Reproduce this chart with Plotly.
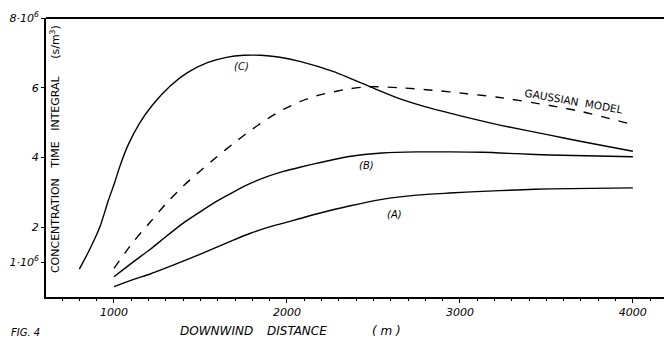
import plotly.graph_objects as go

# Downwind distance (m) and concentration time integral (x10^6 s/m^3)
c_x = [800, 860, 920, 965, 1005, 1035, 1080, 1150, 1225, 1325, 1420, 1540, 1650, 1750, 1850, 1950, 2080, 2270, 2480, 2650, 2840, 3040, 3230, 3520, 3710, 4000]
c_y = [0.80, 1.37, 2.03, 2.73, 3.30, 3.76, 4.34, 5.00, 5.52, 6.05, 6.42, 6.72, 6.87, 6.93, 6.93, 6.88, 6.75, 6.46, 6.03, 5.69, 5.40, 5.15, 4.93, 4.64, 4.45, 4.18]

g_x = [1000, 1110, 1210, 1305, 1400, 1500, 1595, 1690, 1785, 1885, 1980, 2075, 2170, 2360, 2480, 2650, 2840, 3040, 3230, 3520, 3710, 4000]
g_y = [0.82, 1.57, 2.15, 2.70, 3.18, 3.62, 4.02, 4.40, 4.76, 5.10, 5.38, 5.60, 5.77, 5.97, 6.03, 6.00, 5.93, 5.83, 5.72, 5.49, 5.31, 4.94]

b_x = [1000, 1110, 1210, 1305, 1400, 1500, 1595, 1690, 1785, 1885, 1980, 2075, 2170, 2360, 2550, 2750, 2940, 3130, 3330, 3520, 4000]
b_y = [0.58, 1.00, 1.37, 1.75, 2.12, 2.45, 2.75, 3.01, 3.25, 3.45, 3.60, 3.72, 3.83, 4.03, 4.13, 4.16, 4.16, 4.15, 4.11, 4.07, 4.02]

a_x = [1000, 1110, 1210, 1305, 1400, 1500, 1595, 1690, 1785, 1885, 1980, 2075, 2170, 2360, 2550, 2750, 2940, 3130, 3330, 3520, 4000]
a_y = [0.30, 0.50, 0.66, 0.84, 1.03, 1.23, 1.43, 1.63, 1.82, 1.99, 2.12, 2.25, 2.38, 2.61, 2.80, 2.92, 2.98, 3.03, 3.07, 3.10, 3.13]

x_tickvals = [1000, 2000, 3000, 4000]
x_ticktext = ["<i>1000</i>", "<i>2000</i>", "<i>3000</i>", "<i>4000</i>"]
y_tickvals = [1, 2, 4, 6, 8]
y_ticktext = ["<i>1·10<sup>6</sup></i>", "<i>2</i>", "<i>4</i>", "<i>6</i>", "<i>8·10<sup>6</sup></i>"]

FONT = "DejaVu Sans"
fig = go.Figure()
line = dict(color="black", width=1.4, shape="spline", smoothing=0.7)
fig.add_trace(go.Scatter(x=c_x, y=c_y, mode="lines", line=dict(line, dash="solid"), name="(C)"))
fig.add_trace(go.Scatter(x=g_x, y=g_y, mode="lines", line=dict(line, dash="dash"), name="Gaussian model"))
fig.add_trace(go.Scatter(x=b_x, y=b_y, mode="lines", line=dict(line, dash="solid"), name="(B)"))
fig.add_trace(go.Scatter(x=a_x, y=a_y, mode="lines", line=dict(line, dash="solid"), name="(A)"))

fig.update_layout(
    width=664, height=338,
    margin=dict(l=46, r=0, t=18, b=41),
    paper_bgcolor="white", plot_bgcolor="white",
    showlegend=False,
    font=dict(family=FONT, color="black", size=11),
    xaxis=dict(range=[607, 4180], tickvals=x_tickvals, ticktext=x_ticktext,
               showgrid=False, zeroline=False, showline=True, linecolor="black", linewidth=2,
               ticks="outside", ticklen=4, tickcolor="black", tickwidth=1,
               minor=dict(dtick=100, ticks="outside", ticklen=2, tickcolor="black"),
               tickfont=dict(size=11, family=FONT), automargin=False),
    yaxis=dict(range=[0, 8], tickvals=y_tickvals, ticktext=y_ticktext,
               showgrid=False, zeroline=False, showline=True, linecolor="black", linewidth=2,
               ticks="outside", ticklen=3, tickcolor="black",
               tickfont=dict(size=11, family=FONT), automargin=False),
)

fig.add_shape(type="line", xref="paper", yref="paper", x0=0, x1=1, y0=1, y1=1,
              line=dict(color="black", width=2))

ann = dict(showarrow=False, font=dict(family=FONT, size=10, color="black"))
fig.add_annotation(x=1740, y=6.61, text="<i>(C)</i>", **ann)
fig.add_annotation(x=2462, y=3.77, text="<i>(B)</i>", **ann)
fig.add_annotation(x=2624, y=2.38, text="<i>(A)</i>", **ann)
fig.add_annotation(x=3655, y=5.61, text="GAUSSIAN  MODEL", textangle=10,
                   showarrow=False, font=dict(family=FONT, size=10.5, color="black"))
fig.add_annotation(xref="paper", yref="paper", x=0.0145, y=0.53, xanchor="center", yanchor="middle",
                   text="CONCENTRATION   TIME   INTEGRAL     (s/m<sup>3</sup>)", textangle=-90,
                   showarrow=False, font=dict(family=FONT, size=11, color="black"))

title_font = dict(family=FONT, size=12, color="black")
for xp, word in [(178, "DOWNWIND"), (265, "DISTANCE"), (370, "( m )")]:
    fig.add_annotation(xref="paper", yref="paper", x=(xp - 46) / 618, y=(297 - 331) / 279,
                       xanchor="left", yanchor="middle", text="<i>" + word + "</i>",
                       showarrow=False, font=title_font)
fig.add_annotation(xref="paper", yref="paper", x=(9 - 46) / 618, y=(297 - 332) / 279,
                   xanchor="left", yanchor="middle", text="<i>FIG. 4</i>", showarrow=False,
                   font=dict(family=FONT, size=10, color="black"))

fig.write_html("out.html", config={"displayModeBar": False},
               post_script="document.body.style.margin='0';")
